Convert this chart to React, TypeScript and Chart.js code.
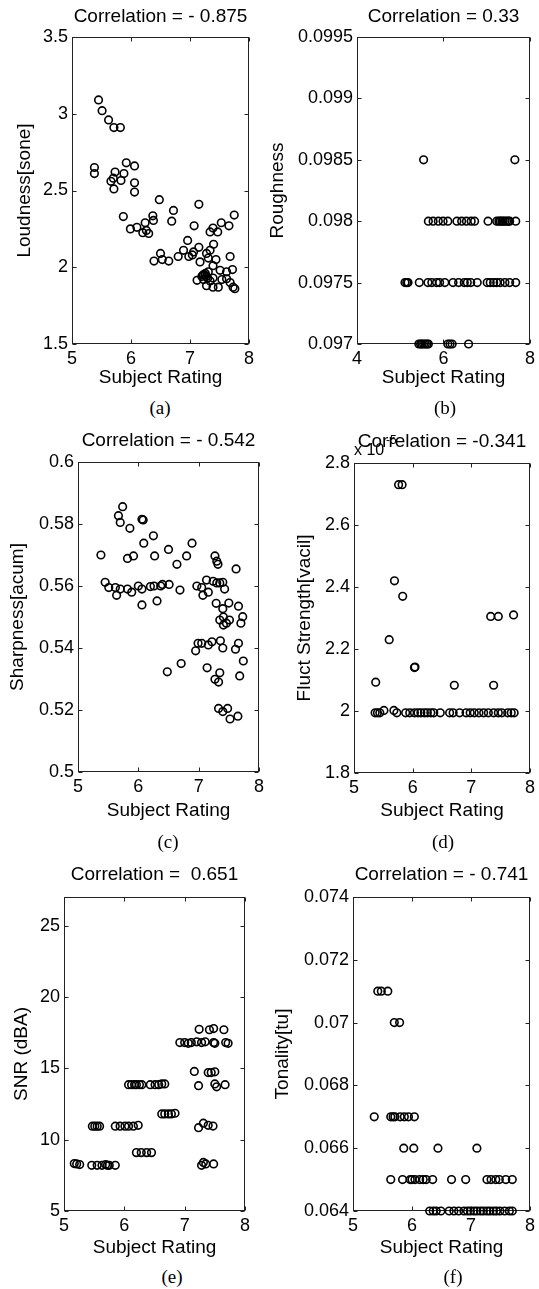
import React, { useEffect, useRef } from "react";
import { Chart, registerables } from "chart.js";

Chart.register(...registerables);

const SANS = "'Liberation Sans', Arial, Helvetica, sans-serif";
const SERIF = "'Liberation Serif', 'Times New Roman', serif";
const FS = 18;
const FT = 19;

// ---------- (a) Loudness ----------
const loudRating = [5.45, 5.51, 5.62, 5.71, 5.82, 5.38, 5.38, 5.92, 6.06, 5.73, 5.88, 5.66, 5.7, 5.83, 5.71, 6.06, 6.06, 6.48, 6.72, 7.15, 5.87, 6.37, 6.38, 6.24, 6.69, 5.99, 6.1, 6.2, 6.3, 6.26, 7.07, 7.75, 7.53, 7.66, 7.39, 7.34, 7.47, 6.96, 7.15, 7.4, 6.89, 6.5, 6.39, 6.53, 6.64, 6.8, 6.98, 7.04, 7.06, 7.28, 7.34, 7.17, 7.31, 7.44, 7.39, 7.68, 7.72, 7.51, 7.62, 7.28, 7.25, 7.3, 7.12, 7.22, 7.31, 7.39, 7.28, 7.39, 7.48, 7.54, 7.62, 7.68, 7.73, 7.76, 7.34, 7.23, 7.26, 7.2];
const loudValue = [3.09, 3.02, 2.96, 2.91, 2.91, 2.65, 2.61, 2.68, 2.66, 2.62, 2.61, 2.56, 2.58, 2.565, 2.51, 2.55, 2.49, 2.44, 2.37, 2.41, 2.33, 2.335, 2.305, 2.29, 2.3, 2.25, 2.26, 2.225, 2.22, 2.24, 2.27, 2.34, 2.29, 2.27, 2.255, 2.23, 2.23, 2.175, 2.13, 2.15, 2.11, 2.09, 2.04, 2.05, 2.04, 2.07, 2.07, 2.08, 2.1, 2.09, 2.11, 2.035, 2.06, 2.05, 2.01, 2.07, 1.985, 1.98, 1.97, 1.94, 1.95, 1.93, 1.915, 1.95, 1.97, 1.93, 1.88, 1.87, 1.87, 1.92, 1.925, 1.9, 1.87, 1.86, 1.91, 1.92, 1.96, 1.94];

// ---------- (b) Roughness ----------
const roughLevels = [0.0985, 0.098, 0.0975, 0.097];
const roughRatings0985 = [5.54, 7.65];
const roughRatings0980 = [5.65, 5.76, 5.88, 5.99, 6.1, 6.31, 6.42, 6.53, 6.64, 6.72, 7.03, 7.23, 7.28, 7.31, 7.35, 7.38, 7.42, 7.46, 7.5, 7.53, 7.67];
const roughRatings0975 = [5.11, 5.15, 5.18, 5.44, 5.64, 5.73, 5.84, 5.91, 6.03, 6.22, 6.35, 6.48, 6.55, 6.63, 6.78, 7.01, 7.08, 7.16, 7.23, 7.31, 7.42, 7.53, 7.67];
const roughRatings0970 = [5.43, 5.47, 5.5, 5.54, 5.58, 5.62, 5.65, 6.1, 6.15, 6.2, 6.58];

// ---------- (c) Sharpness ----------
const sharpRating = [5.38, 5.74, 5.67, 5.7, 5.86, 6.06, 6.08, 6.09, 6.25, 5.82, 5.92, 6.27, 6.5, 6.64, 6.8, 6.89, 7.27, 7.3, 7.32, 7.62, 5.45, 5.51, 5.62, 5.64, 5.7, 5.82, 5.89, 6.0, 6.06, 6.06, 6.2, 6.26, 6.31, 6.37, 6.4, 6.51, 6.69, 6.97, 7.05, 7.07, 7.13, 7.16, 7.24, 7.3, 7.35, 7.4, 7.43, 7.29, 7.5, 7.4, 7.66, 7.41, 7.51, 7.73, 7.35, 7.41, 7.46, 7.7, 6.99, 7.05, 7.16, 7.22, 7.36, 7.4, 7.66, 7.61, 6.95, 6.71, 6.48, 7.14, 7.35, 7.27, 7.33, 7.68, 7.74, 7.33, 7.4, 7.48, 7.52, 7.65];
const sharpValue = [0.57, 0.5856, 0.5827, 0.5805, 0.5786, 0.5815, 0.5813, 0.5738, 0.5762, 0.5689, 0.5697, 0.5697, 0.5718, 0.567, 0.5697, 0.5738, 0.5697, 0.568, 0.567, 0.5655, 0.5612, 0.5595, 0.5595, 0.557, 0.559, 0.559, 0.558, 0.56, 0.559, 0.5539, 0.5598, 0.56, 0.5552, 0.56, 0.5605, 0.5605, 0.5587, 0.56, 0.5595, 0.557, 0.5619, 0.558, 0.5615, 0.561, 0.561, 0.5612, 0.559, 0.5544, 0.5545, 0.5527, 0.5535, 0.55, 0.549, 0.5501, 0.549, 0.5474, 0.548, 0.548, 0.5415, 0.5415, 0.541, 0.542, 0.5423, 0.54, 0.5415, 0.5396, 0.5391, 0.535, 0.5323, 0.5336, 0.532, 0.5299, 0.529, 0.531, 0.5358, 0.5205, 0.5195, 0.5205, 0.5171, 0.518];

// ---------- (d) Fluctuation strength (x 1e-5) ----------
const fluctRating = [5.76, 5.82, 5.69, 5.83, 7.33, 7.46, 7.72, 5.6, 6.03, 6.04, 5.37, 6.71, 7.38, 5.36, 5.4, 5.44, 5.51, 5.68, 5.73, 5.88, 5.95, 6.03, 6.09, 6.14, 6.2, 6.25, 6.31, 6.36, 6.47, 6.63, 6.69, 6.8, 6.91, 6.98, 7.05, 7.13, 7.21, 7.29, 7.38, 7.46, 7.52, 7.62, 7.68, 7.73];
const fluctValue = [2.73, 2.73, 2.42, 2.37, 2.305, 2.305, 2.31, 2.23, 2.14, 2.142, 2.093, 2.083, 2.083, 1.994, 1.994, 1.994, 2.002, 2.002, 1.994, 1.994, 1.994, 1.994, 1.994, 1.994, 1.994, 1.994, 1.994, 1.994, 1.994, 1.994, 1.994, 1.994, 1.994, 1.994, 1.994, 1.994, 1.994, 1.994, 1.994, 1.994, 1.994, 1.994, 1.994, 1.994];

// ---------- (e) SNR ----------
const snrRating = [7.24, 7.41, 7.48, 7.65, 6.92, 7.0, 7.06, 7.11, 7.2, 7.28, 7.34, 7.48, 7.5, 7.68, 7.72, 7.16, 7.39, 7.44, 7.5, 7.23, 7.5, 7.53, 7.67, 6.07, 6.12, 6.17, 6.2, 6.25, 6.29, 6.43, 6.51, 6.57, 6.62, 6.67, 6.62, 6.67, 6.73, 6.78, 6.84, 5.47, 5.51, 5.55, 5.59, 5.85, 5.93, 6.01, 6.07, 6.15, 6.23, 7.31, 7.39, 7.47, 7.23, 6.2, 6.28, 6.37, 6.45, 5.17, 5.21, 5.26, 5.46, 5.55, 5.63, 5.69, 5.72, 5.75, 5.85, 7.28, 7.31, 7.35, 7.48];
const snrValue = [17.73, 17.7, 17.78, 17.7, 16.8, 16.8, 16.75, 16.8, 16.85, 16.8, 16.85, 16.8, 16.75, 16.8, 16.75, 14.78, 14.7, 14.7, 14.75, 13.78, 13.9, 13.7, 13.85, 13.85, 13.85, 13.85, 13.85, 13.85, 13.85, 13.85, 13.85, 13.85, 13.9, 13.9, 11.8, 11.8, 11.8, 11.8, 11.85, 10.94, 10.94, 10.94, 10.94, 10.94, 10.94, 10.94, 10.94, 10.94, 11.0, 11.15, 11.0, 10.95, 10.84, 9.09, 9.09, 9.09, 9.09, 8.32, 8.3, 8.25, 8.2, 8.2, 8.2, 8.25, 8.2, 8.2, 8.2, 8.2, 8.4, 8.3, 8.3];

// ---------- (f) Tonality ----------
const tonalRating = [5.42, 5.48, 5.59, 5.7, 5.79, 5.36, 5.64, 5.68, 5.71, 5.8, 5.87, 5.94, 6.04, 5.86, 6.03, 6.44, 7.1, 5.64, 5.84, 5.97, 6.0, 6.05, 6.13, 6.19, 6.24, 6.35, 6.67, 6.91, 7.27, 7.34, 7.42, 7.48, 7.59, 7.7, 6.3, 6.36, 6.41, 6.49, 6.63, 6.71, 6.79, 6.88, 6.94, 6.99, 7.05, 7.1, 7.16, 7.21, 7.27, 7.32, 7.38, 7.43, 7.49, 7.57, 7.65, 7.7];
const tonalValue = [0.071, 0.071, 0.071, 0.07, 0.07, 0.067, 0.067, 0.067, 0.067, 0.067, 0.067, 0.067, 0.067, 0.066, 0.066, 0.066, 0.066, 0.065, 0.065, 0.065, 0.065, 0.065, 0.065, 0.065, 0.065, 0.065, 0.065, 0.065, 0.065, 0.065, 0.065, 0.065, 0.065, 0.065, 0.064, 0.064, 0.064, 0.064, 0.064, 0.064, 0.064, 0.064, 0.064, 0.064, 0.064, 0.064, 0.064, 0.064, 0.064, 0.064, 0.064, 0.064, 0.064, 0.064, 0.064, 0.064];

// ---------- ticks ----------
const ratingTicks = [5, 6, 7, 8];
const ratingTicksWide = [4, 6, 8];
const loudTicks = [1.5, 2, 2.5, 3, 3.5];
const roughTicks = [0.097, 0.0975, 0.098, 0.0985, 0.099, 0.0995];
const sharpTicks = [0.5, 0.52, 0.54, 0.56, 0.58, 0.6];
const fluctTicks = [1.8, 2, 2.2, 2.4, 2.6, 2.8];
const snrTicks = [5, 10, 15, 20, 25];
const tonalTicks = [0.064, 0.066, 0.068, 0.07, 0.072, 0.074];

const pair = (xs: number[], ys: number[]) => xs.map((x, i) => ({ x, y: ys[i] }));
const rows = (levels: number[], groups: number[][]) =>
  groups.flatMap((g, i) => g.map((x) => ({ x, y: levels[i] })));

const fmt = (v: any) => String(Number(Number(v).toFixed(6)));

const matlabPlugin = {
  id: "matlab",
  beforeDatasetsDraw(chart: any) {
    const { ctx, chartArea: a, scales } = chart;
    const L = Math.round(a.left) + 0.5, R = Math.round(a.right) - 0.5;
    const T = Math.round(a.top) + 0.5, B = Math.round(a.bottom) - 0.5;
    ctx.save();
    ctx.strokeStyle = "#222";
    ctx.lineWidth = 1;
    ctx.strokeRect(L, T, R - L, B - T);
    const tl = 4;
    ctx.beginPath();
    scales.x.ticks.forEach((t: any) => {
      const p = Math.round(scales.x.getPixelForValue(t.value)) + 0.5;
      ctx.moveTo(p, B); ctx.lineTo(p, B - tl);
      ctx.moveTo(p, T); ctx.lineTo(p, T + tl);
    });
    scales.y.ticks.forEach((t: any) => {
      const p = Math.round(scales.y.getPixelForValue(t.value)) + 0.5;
      ctx.moveTo(L, p); ctx.lineTo(L + tl, p);
      ctx.moveTo(R, p); ctx.lineTo(R - tl, p);
    });
    ctx.stroke();
    ctx.restore();
  },
  afterDraw(chart: any, _a: any, opts: any) {
    const { ctx, chartArea: a } = chart;
    ctx.save();
    ctx.fillStyle = "#000";
    ctx.font = `${FT}px ${SANS}`;
    ctx.textAlign = "center";
    ctx.textBaseline = "middle";
    ctx.fillText(opts.title, (a.left + a.right) / 2, opts.titleY);
    if (opts.exponent) {
      ctx.textAlign = "left";
      ctx.textBaseline = "alphabetic";
      ctx.font = `16px ${SANS}`;
      ctx.fillText("x 10", a.left, a.top - 8);
      ctx.font = `12px ${SANS}`;
      ctx.fillText("-5", a.left + 32, a.top - 19);
    }
    ctx.restore();
  },
};

type Spec = {
  left: number; top: number; w: number; h: number;
  area: { l: number; r: number; t: number; b: number };
  title: string; titleY: number;
  yLabel: string; yPad: number; xPad: number;
  xMin: number; xMax: number; xTicks: number[];
  yMin: number; yMax: number; yTicks: number[];
  points: { x: number; y: number }[];
  exponent?: boolean;
  caption: string; capX: number; capY: number;
};

const specs: Spec[] = [
  {
    left: 0, top: 0, w: 270, h: 395, area: { l: 72, r: 249, t: 37, b: 344 },
    title: "Correlation = - 0.875", titleY: 17, yLabel: "Loudness[sone]", yPad: 13.5, xPad: 5.5,
    xMin: 5, xMax: 8, xTicks: ratingTicks, yMin: 1.5, yMax: 3.5, yTicks: loudTicks,
    points: pair(loudRating, loudValue), caption: "(a)", capX: 160, capY: 408,
  },
  {
    left: 260, top: 0, w: 279, h: 395, area: { l: 97, r: 274, t: 37, b: 344 },
    title: "Correlation = 0.33", titleY: 17, yLabel: "Roughness", yPad: 6.5, xPad: 5.5,
    xMin: 4, xMax: 8, xTicks: ratingTicksWide, yMin: 0.097, yMax: 0.0995, yTicks: roughTicks,
    points: rows(roughLevels, [roughRatings0985, roughRatings0980, roughRatings0975, roughRatings0970]),
    caption: "(b)", capX: 445, capY: 408,
  },
  {
    left: 0, top: 420, w: 270, h: 405, area: { l: 78, r: 259, t: 42, b: 352 },
    title: "Correlation = - 0.542", titleY: 21, yLabel: "Sharpness[acum]", yPad: 6.5, xPad: 2.5,
    xMin: 5, xMax: 8, xTicks: ratingTicks, yMin: 0.5, yMax: 0.6, yTicks: sharpTicks,
    points: pair(sharpRating, sharpValue), caption: "(c)", capX: 168, capY: 842,
  },
  {
    left: 260, top: 420, w: 279, h: 405, area: { l: 94, r: 274, t: 43, b: 353 },
    title: "Correlation = -0.341", titleY: 22, yLabel: "Fluct Strength[vacil]", yPad: 33.5, xPad: 2.5,
    xMin: 5, xMax: 8, xTicks: ratingTicks, yMin: 1.8, yMax: 2.8, yTicks: fluctTicks,
    points: pair(fluctRating, fluctValue), exponent: true, caption: "(d)", capX: 443, capY: 842,
  },
  {
    left: 0, top: 840, w: 270, h: 420, area: { l: 64, r: 245, t: 57, b: 371 },
    title: "Correlation =  0.651", titleY: 35, yLabel: "SNR (dBA)", yPad: 10.5, xPad: 0.5,
    xMin: 5, xMax: 8, xTicks: ratingTicks, yMin: 5, yMax: 27, yTicks: snrTicks,
    points: pair(snrRating, snrValue), caption: "(e)", capX: 172, capY: 1277,
  },
  {
    left: 260, top: 840, w: 279, h: 420, area: { l: 93, r: 274, t: 57, b: 371 },
    title: "Correlation = - 0.741", titleY: 35, yLabel: "Tonality[tu]", yPad: 11.5, xPad: 0.5,
    xMin: 5, xMax: 8, xTicks: ratingTicks, yMin: 0.064, yMax: 0.074, yTicks: tonalTicks,
    points: pair(tonalRating, tonalValue), caption: "(f)", capX: 453, capY: 1277,
  },
];

function Panel({ spec }: { spec: Spec }) {
  const ref = useRef<HTMLCanvasElement | null>(null);
  useEffect(() => {
    if (!ref.current) return;
    const font = { family: SANS, size: FS };
    const tfont = { family: SANS, size: FT };
    const chart = new Chart(ref.current, {
      type: "scatter",
      data: {
        datasets: [
          {
            data: spec.points,
            pointRadius: 3.8,
            pointHoverRadius: 3.8,
            pointBorderWidth: 1.6,
            pointBorderColor: "#000",
            pointBackgroundColor: "rgba(0,0,0,0)",
            clip: false as any,
          } as any,
        ],
      },
      options: {
        responsive: false,
        animation: false,
        devicePixelRatio: 1,
        events: [],
        layout: { padding: { left: 0, top: spec.area.t, right: spec.w - spec.area.r, bottom: 0 } },
        plugins: {
          legend: { display: false },
          tooltip: { enabled: false },
          title: { display: false },
          matlab: { title: spec.title, titleY: spec.titleY, exponent: !!spec.exponent },
        } as any,
        scales: {
          x: {
            type: "linear",
            position: "bottom",
            min: spec.xMin,
            max: spec.xMax,
            grid: { display: false, drawTicks: false },
            border: { display: false },
            ticks: { color: "#000", font, padding: 4, maxRotation: 0, autoSkip: false, callback: fmt },
            title: { display: true, text: "Subject Rating", color: "#000", font: tfont, padding: { top: 0, bottom: spec.xPad } },
            afterBuildTicks: (s: any) => { s.ticks = spec.xTicks.map((v) => ({ value: v })); },
            afterFit: (s: any) => { s.height = spec.h - spec.area.b; },
          },
          y: {
            type: "linear",
            min: spec.yMin,
            max: spec.yMax,
            grid: { display: false, drawTicks: false },
            border: { display: false },
            ticks: { color: "#000", font, padding: 4, autoSkip: false, callback: fmt },
            title: { display: true, text: spec.yLabel, color: "#000", font: tfont, padding: { top: spec.yPad, bottom: 0 } },
            afterBuildTicks: (s: any) => { s.ticks = spec.yTicks.map((v) => ({ value: v })); },
            afterFit: (s: any) => { s.width = spec.area.l; },
          },
        } as any,
      },
      plugins: [matlabPlugin as any],
    });
    return () => chart.destroy();
  }, [spec]);
  return (
    <canvas
      ref={ref}
      width={spec.w}
      height={spec.h}
      style={{ position: "absolute", left: spec.left, top: spec.top, width: spec.w, height: spec.h }}
    />
  );
}

export default function App() {
  return (
    <div style={{ position: "absolute", left: 0, top: 0, width: 539, height: 1289, background: "#fff", overflow: "hidden" }}>
      {specs.map((s, i) => (
        <Panel key={i} spec={s} />
      ))}
      {specs.map((s, i) => (
        <div
          key={"c" + i}
          style={{
            position: "absolute",
            left: s.capX,
            top: s.capY,
            transform: "translate(-50%, -50%)",
            fontFamily: SERIF,
            fontSize: 19,
            lineHeight: "22px",
            color: "#000",
            whiteSpace: "nowrap",
          }}
        >
          {s.caption}
        </div>
      ))}
    </div>
  );
}
